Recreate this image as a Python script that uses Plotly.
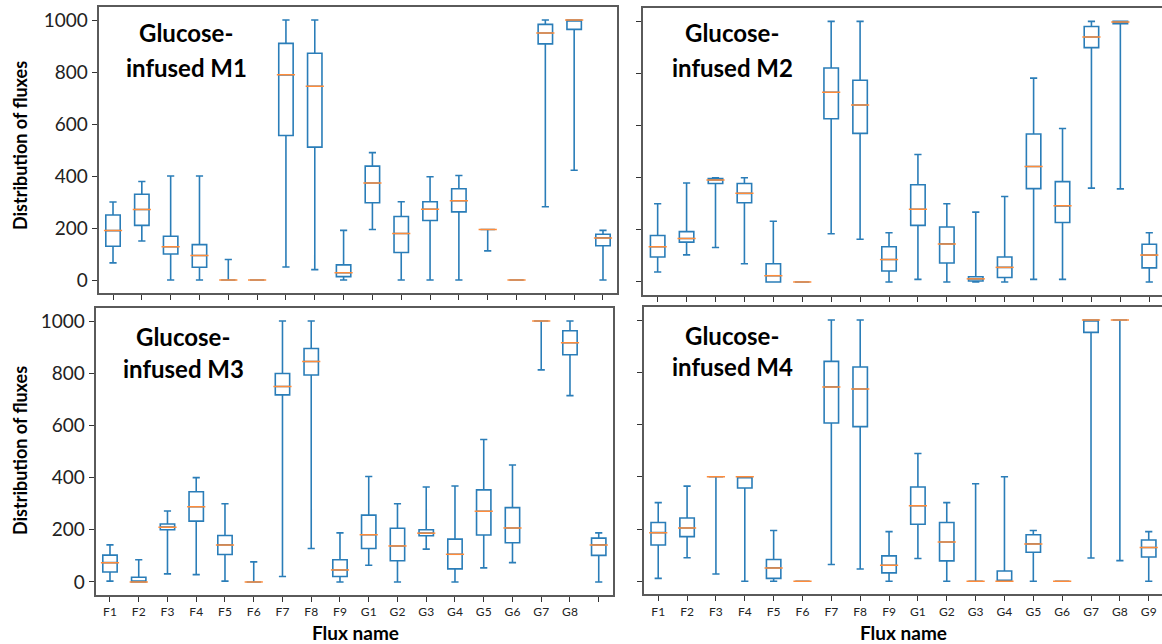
import plotly.graph_objects as go

flux_names = ["F1", "F2", "F3", "F4", "F5", "F6", "F7", "F8", "F9",
              "G1", "G2", "G3", "G4", "G5", "G6", "G7", "G8", "G9"]
positions = list(range(1, 19))
m3_tick_text = flux_names[:17] + [""]
y_ticks = [0, 200, 400, 600, 800, 1000]

# Glucose-infused M1
m1_min = [66, 150, 0, 0, 0, 0, 50, 40, 0, 194, 0, 0, 0, 112, 0, 282, 422, 0]
m1_q1 = [130, 210, 100, 49, 0, 0, 556, 511, 13, 297, 106, 229, 262, 194, 0, 908, 964, 132]
m1_med = [190, 271, 128, 94, 0, 0, 789, 745, 28, 373, 179, 272, 305, 194, 0, 950, 1000, 162]
m1_q3 = [250, 330, 168, 136, 0, 0, 910, 872, 58, 438, 244, 301, 351, 194, 0, 983, 1000, 176]
m1_max = [300, 379, 400, 400, 79, 0, 1000, 1000, 191, 490, 301, 397, 402, 194, 0, 1000, 1000, 191]

# Glucose-infused M2
m2_min = [38, 104, 132, 70, 0, 0, 185, 164, 0, 10, 0, 0, 0, 10, 10, 360, 357, 0]
m2_q1 = [96, 153, 378, 304, 0, 0, 626, 570, 42, 217, 73, 4, 17, 358, 228, 899, 991, 54]
m2_med = [135, 167, 391, 340, 24, 0, 728, 679, 86, 279, 146, 12, 56, 443, 292, 940, 997, 103]
m2_q3 = [178, 193, 397, 378, 70, 0, 821, 774, 135, 373, 211, 20, 96, 568, 385, 980, 1000, 145]
m2_max = [300, 380, 400, 400, 233, 0, 1000, 1000, 189, 489, 300, 268, 328, 782, 589, 1000, 1000, 189]

# Glucose-infused M3
m3_min = [3, 0, 31, 28, 3, 0, 21, 128, 0, 64, 0, 126, 0, 54, 74, 813, 714, 0]
m3_q1 = [38, 0, 200, 233, 105, 0, 717, 793, 21, 128, 81, 177, 50, 180, 150, 1000, 871, 102]
m3_med = [74, 0, 210, 288, 142, 0, 749, 845, 46, 181, 138, 187, 106, 271, 207, 1000, 917, 142]
m3_q3 = [103, 18, 222, 346, 178, 0, 799, 895, 85, 256, 206, 200, 164, 353, 285, 1000, 963, 168]
m3_max = [142, 85, 272, 400, 300, 77, 1000, 1000, 188, 404, 300, 364, 368, 546, 448, 1000, 1000, 188]

# Glucose-infused M4
m4_min = [11, 90, 28, 0, 0, 0, 64, 47, 0, 87, 0, 0, 0, 0, 0, 89, 79, 0]
m4_q1 = [139, 171, 400, 357, 11, 0, 606, 592, 32, 218, 78, 0, 0, 111, 0, 953, 1000, 93]
m4_med = [186, 204, 400, 400, 51, 0, 744, 736, 61, 289, 150, 0, 0, 143, 0, 1000, 1000, 129]
m4_q3 = [225, 242, 400, 400, 83, 0, 842, 820, 97, 361, 225, 0, 39, 178, 0, 1000, 1000, 158]
m4_max = [301, 364, 400, 400, 194, 0, 1000, 1000, 190, 489, 301, 373, 400, 194, 0, 1000, 1000, 190]

panel_titles = ["Glucose-infused M1", "Glucose-infused M2", "Glucose-infused M3", "Glucose-infused M4"]

BOX_BLUE = "#2a7db8"
MED_ORANGE = "#ff8c3a"
FRAME = "#5a5a5a"
FONT = "Lato"

W, H = 1162, 644

panels = [
    dict(mn=m1_min, q1=m1_q1, med=m1_med, q3=m1_q3, mx=m1_max, xa="x", ya="y"),
    dict(mn=m2_min, q1=m2_q1, med=m2_med, q3=m2_q3, mx=m2_max, xa="x2", ya="y2"),
    dict(mn=m3_min, q1=m3_q1, med=m3_med, q3=m3_q3, mx=m3_max, xa="x3", ya="y3"),
    dict(mn=m4_min, q1=m4_q1, med=m4_med, q3=m4_q3, mx=m4_max, xa="x4", ya="y4"),
]

fig = go.Figure()
for p in panels:
    fig.add_trace(go.Box(
        x=positions, q1=p["q1"], median=p["med"], q3=p["q3"],
        lowerfence=p["mn"], upperfence=p["mx"],
        xaxis=p["xa"], yaxis=p["ya"], width=0.5, whiskerwidth=0.5,
        line=dict(color=BOX_BLUE, width=1.6), fillcolor="rgba(255,255,255,0)",
        boxpoints=False, showlegend=False, hoverinfo="skip",
    ))
    fig.add_trace(go.Scatter(
        x=positions, y=p["med"], mode="markers",
        xaxis=p["xa"], yaxis=p["ya"],
        marker=dict(symbol="line-ew", size=13, color=MED_ORANGE,
                    line=dict(color=MED_ORANGE, width=1.5)),
        showlegend=False, hoverinfo="skip",
    ))

# pixel-based domains
def dx(a, b):
    return [a / W, min(b / W, 1.0)]

def dy(top, bottom):
    return [1 - bottom / H, 1 - top / H]

common_x = dict(showgrid=False, zeroline=False, ticks="outside", ticklen=5, tickwidth=1.3,
                tickcolor="#333333", showline=True, linecolor=FRAME, linewidth=2, mirror=True,
                tickvals=positions, tickfont=dict(family=FONT, size=12, color="#222222"))
common_y = dict(showgrid=False, zeroline=False, ticks="outside", ticklen=5, tickwidth=1.3,
                tickcolor="#333333", showline=True, linecolor=FRAME, linewidth=2,
                range=[-50, 1050], tickvals=y_ticks,
                tickfont=dict(family=FONT, size=19, color="#222222"))

fig.update_layout(
    width=W, height=H, margin=dict(l=0, r=0, t=0, b=0),
    paper_bgcolor="white", plot_bgcolor="white", showlegend=False,
    xaxis=dict(common_x, domain=dx(98.6, 617.4), range=[0.5, 18.5], anchor="y",
               ticktext=flux_names, showticklabels=False),
    yaxis=dict(common_y, domain=dy(7, 293), anchor="x", mirror=True, showticklabels=True),
    xaxis2=dict(common_x, domain=dx(643.2, 1162), range=[0.5, 18.44], anchor="y2",
                ticktext=flux_names, showticklabels=False),
    yaxis2=dict(common_y, domain=dy(8.3, 295), anchor="x2", mirror=False, showticklabels=False),
    xaxis3=dict(common_x, domain=dx(95.6, 613.1), range=[0.5, 18.5], anchor="y3",
                ticktext=m3_tick_text, showticklabels=True),
    yaxis3=dict(common_y, domain=dy(308, 595), anchor="x3", mirror=True, showticklabels=True),
    xaxis4=dict(common_x, domain=dx(643.8, 1162), range=[0.5, 18.46], anchor="y4",
                ticktext=flux_names, showticklabels=True),
    yaxis4=dict(common_y, domain=dy(307, 594.3), anchor="x4", mirror=False, showticklabels=False),
)

annotations = []
title_pos = [(186, 33, 68), (732, 33, 68), (183, 336, 368), (732, 335, 366)]
for t, (cx, y1, y2) in zip(panel_titles, title_pos):
    first, second = t.split("-", 1)
    for txt, yy in ((first + "-", y1), (second, y2)):
        annotations.append(dict(text="<b>%s</b>" % txt, x=cx / W, y=1 - yy / H,
                                xref="paper", yref="paper", showarrow=False,
                                xanchor="center", yanchor="middle",
                                font=dict(family=FONT, size=24, color="black")))
for cy in (146, 451):
    annotations.append(dict(text="<b>Distribution of fluxes</b>", x=20 / W, y=1 - cy / H,
                            xref="paper", yref="paper", showarrow=False, textangle=-90,
                            xanchor="center", yanchor="middle",
                            font=dict(family=FONT, size=18, color="black")))
for cx in (355, 903):
    annotations.append(dict(text="<b>Flux name</b>", x=cx / W, y=1 - 632 / H,
                            xref="paper", yref="paper", showarrow=False,
                            xanchor="center", yanchor="middle",
                            font=dict(family=FONT, size=19, color="black")))
fig.update_layout(annotations=annotations)

fig.write_html("out.html")
